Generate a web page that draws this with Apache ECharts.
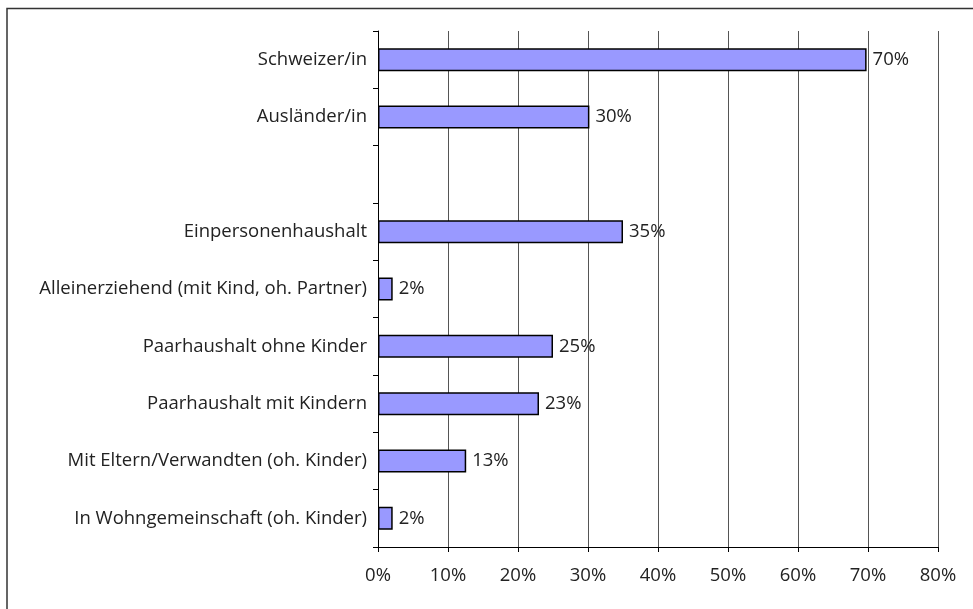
<!DOCTYPE html>
<html>
<head>
<meta charset="utf-8">
<script src="https://cdn.jsdelivr.net/npm/echarts@6/dist/echarts.min.js"></script>
<style>html,body{margin:0;padding:0;background:#fff}#c{width:973px;height:609px}</style>
</head>
<body>
<div id="c"></div>
<script>
const categories = [
  'Schweizer/in',
  'Ausländer/in',
  '',
  'Einpersonenhaushalt',
  'Alleinerziehend (mit Kind, oh. Partner)',
  'Paarhaushalt ohne Kinder',
  'Paarhaushalt mit Kindern',
  'Mit Eltern/Verwandten (oh. Kinder)',
  'In Wohngemeinschaft (oh. Kinder)'
];
const values = [69.8, 30.2, null, 35.0, 2.1, 25.0, 23.0, 12.6, 2.1];
const xTicks = [0, 10, 20, 30, 40, 50, 60, 70, 80];

const FONT = 'Open Sans';
const chart = echarts.init(document.getElementById('c'), null, {renderer: 'canvas'});
chart.setOption({
  animation: false,
  backgroundColor: '#ffffff',
  graphic: [{
    type: 'rect',
    shape: {x: 7, y: 8.5, width: 1000, height: 700},
    style: {fill: 'none', stroke: '#333', lineWidth: 1.5},
    silent: true
  }],
  grid: {left: 378, right: 35, top: 31, bottom: 62, containLabel: false},
  xAxis: {
    type: 'value',
    min: xTicks[0],
    max: xTicks[xTicks.length - 1],
    interval: 10,
    axisLine: {show: true, lineStyle: {color: '#000', width: 1}},
    axisTick: {show: true, length: 5, lineStyle: {color: '#000'}},
    axisLabel: {formatter: '{value}%', color: '#222', fontFamily: FONT, fontSize: 18.5, margin: 19},
    splitLine: {show: true, lineStyle: {color: '#555', width: 1}}
  },
  yAxis: {
    type: 'category',
    data: categories,
    inverse: true,
    axisLine: {show: true, lineStyle: {color: '#000', width: 1}},
    axisTick: {show: true, length: 5, lineStyle: {color: '#000'}},
    axisLabel: {color: '#222', fontFamily: FONT, fontSize: 18.5, margin: 11}
  },
  series: [{
    type: 'bar',
    data: values,
    barWidth: 23,
    itemStyle: {color: '#9999FF', borderColor: '#000', borderWidth: 1.5},
    label: {
      show: true,
      position: 'right',
      distance: 6,
      color: '#222',
      fontFamily: FONT,
      fontSize: 18.5,
      formatter: p => Math.round(p.value) + '%'
    }
  }]
});
</script>
</body>
</html>
